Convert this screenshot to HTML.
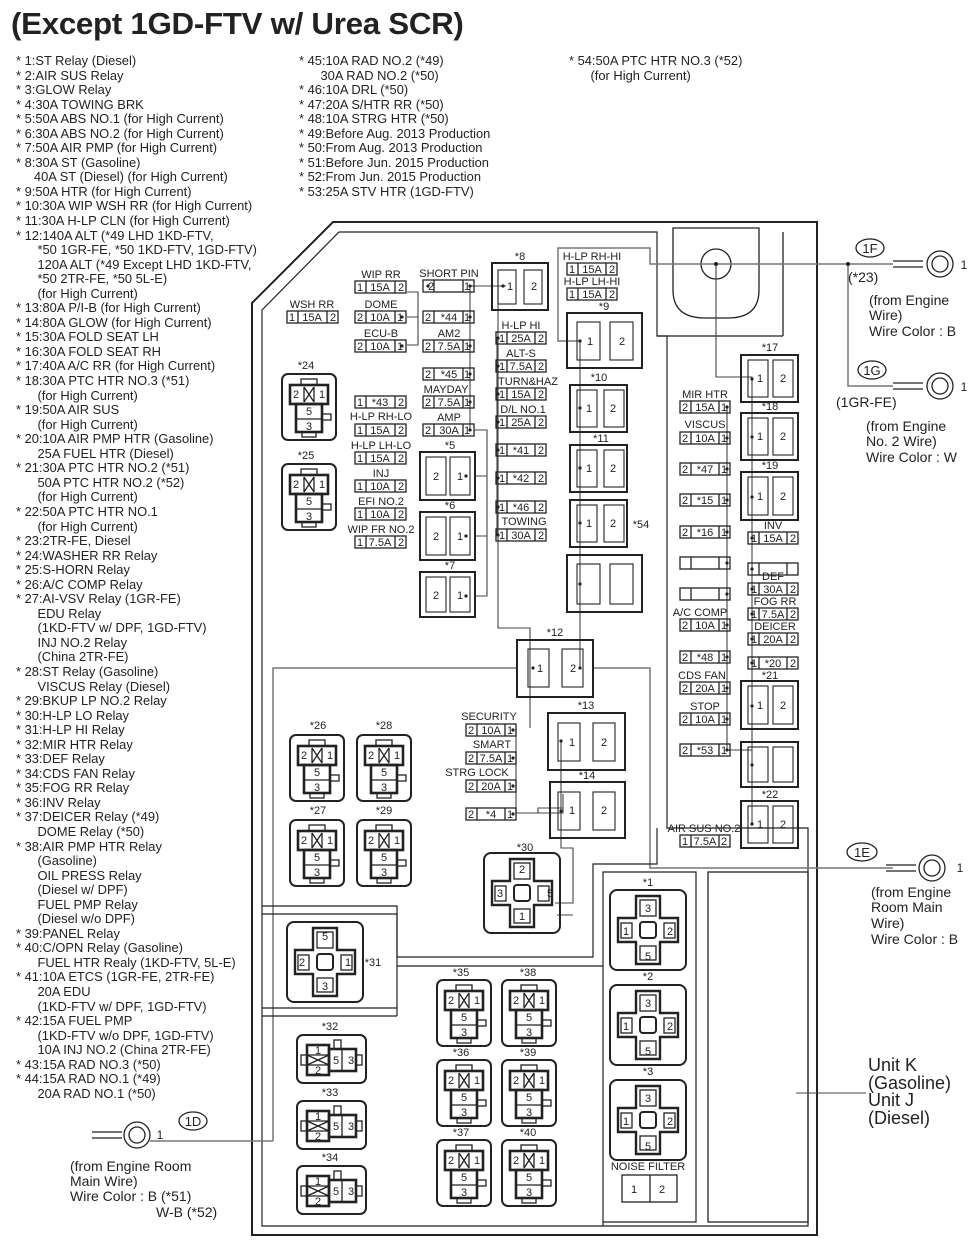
<!DOCTYPE html>
<html><head><meta charset="utf-8"><style>
body{margin:0;background:#fff;width:980px;height:1255px;overflow:hidden;position:relative;font-family:"Liberation Sans",sans-serif;color:#222}
.title{position:absolute;left:11px;top:6px;font-weight:bold;font-size:31px;transform:scaleX(1.01);transform-origin:0 0;white-space:nowrap;letter-spacing:-0.3px}
.col{position:absolute;font-size:12.9px;line-height:14.54px;white-space:pre}
svg{position:absolute;left:0;top:0}
svg text{font-family:"Liberation Sans",sans-serif;font-size:11px;fill:#222;text-anchor:middle}
.s{fill:none;stroke:#222;stroke-width:1.3}
.b{fill:none;stroke:#222;stroke-width:2}
.w{fill:none;stroke:#444;stroke-width:1.1}
.g{fill:none;stroke:#777;stroke-width:1.5}
</style></head><body>
<div class="title">(Except 1GD-FTV w/ Urea SCR)</div>
<div class="col" style="left:16px;top:54px">* 1:ST Relay (Diesel)
* 2:AIR SUS Relay
* 3:GLOW Relay
* 4:30A TOWING BRK
* 5:50A ABS NO.1 (for High Current)
* 6:30A ABS NO.2 (for High Current)
* 7:50A AIR PMP (for High Current)
* 8:30A ST (Gasoline)
     40A ST (Diesel) (for High Current)
* 9:50A HTR (for High Current)
* 10:30A WIP WSH RR (for High Current)
* 11:30A H-LP CLN (for High Current)
* 12:140A ALT (*49 LHD 1KD-FTV,
      *50 1GR-FE, *50 1KD-FTV, 1GD-FTV)
      120A ALT (*49 Except LHD 1KD-FTV,
      *50 2TR-FE, *50 5L-E)
      (for High Current)
* 13:80A P/I-B (for High Current)
* 14:80A GLOW (for High Current)
* 15:30A FOLD SEAT LH
* 16:30A FOLD SEAT RH
* 17:40A A/C RR (for High Current)
* 18:30A PTC HTR NO.3 (*51)
      (for High Current)
* 19:50A AIR SUS
      (for High Current)
* 20:10A AIR PMP HTR (Gasoline)
      25A FUEL HTR (Diesel)
* 21:30A PTC HTR NO.2 (*51)
      50A PTC HTR NO.2 (*52)
      (for High Current)
* 22:50A PTC HTR NO.1
      (for High Current)
* 23:2TR-FE, Diesel
* 24:WASHER RR Relay
* 25:S-HORN Relay
* 26:A/C COMP Relay
* 27:AI-VSV Relay (1GR-FE)
      EDU Relay
      (1KD-FTV w/ DPF, 1GD-FTV)
      INJ NO.2 Relay
      (China 2TR-FE)
* 28:ST Relay (Gasoline)
      VISCUS Relay (Diesel)
* 29:BKUP LP NO.2 Relay
* 30:H-LP LO Relay
* 31:H-LP HI Relay
* 32:MIR HTR Relay
* 33:DEF Relay
* 34:CDS FAN Relay
* 35:FOG RR Relay
* 36:INV Relay
* 37:DEICER Relay (*49)
      DOME Relay (*50)
* 38:AIR PMP HTR Relay
      (Gasoline)
      OIL PRESS Relay
      (Diesel w/ DPF)
      FUEL PMP Relay
      (Diesel w/o DPF)
* 39:PANEL Relay
* 40:C/OPN Relay (Gasoline)
      FUEL HTR Realy (1KD-FTV, 5L-E)
* 41:10A ETCS (1GR-FE, 2TR-FE)
      20A EDU
      (1KD-FTV w/ DPF, 1GD-FTV)
* 42:15A FUEL PMP
      (1KD-FTV w/o DPF, 1GD-FTV)
      10A INJ NO.2 (China 2TR-FE)
* 43:15A RAD NO.3 (*50)
* 44:15A RAD NO.1 (*49)
      20A RAD NO.1 (*50)</div>
<div class="col" style="left:299px;top:54px">* 45:10A RAD NO.2 (*49)
      30A RAD NO.2 (*50)
* 46:10A DRL (*50)
* 47:20A S/HTR RR (*50)
* 48:10A STRG HTR (*50)
* 49:Before Aug. 2013 Production
* 50:From Aug. 2013 Production
* 51:Before Jun. 2015 Production
* 52:From Jun. 2015 Production
* 53:25A STV HTR (1GD-FTV)</div>
<div class="col" style="left:569px;top:54px">* 54:50A PTC HTR NO.3 (*52)
      (for High Current)</div>

<svg width="980" height="1255" viewBox="0 0 980 1255">
<path class="b" d="M333 222H817V1235H252V303Z"/>
<path class="s" d="M339 232H657V336H667V828H808V1226H262V310Z" style="stroke-width:1.2"/>
<path class="s" d="M673 228V290Q673 318 705 318H728Q759 318 759 290V228Z"/>
<line class="s" x1="657" y1="336" x2="783" y2="336"/><line class="s" x1="783" y1="232" x2="783" y2="336"/>
<circle class="s" cx="716" cy="264" r="15"/>
<path class="g" d="M580 341H558V248H650V264H893"/>
<path class="w" d="M716 264V377H752V824"/>
<path class="g" d="M848 264V386H893"/>
<circle cx="848" cy="264" r="2" fill="#222"/><circle cx="716" cy="264" r="2" fill="#222"/>
<path class="w" d="M580 341V612"/>
<path class="w" d="M470 286H506 M470 286V430 M407 292H418V345H407 M407 317H418 M498 286V628H530V728 M580 612V668"/>
<path class="w" d="M474 430H487V596H475 M475 476H487 M475 536H487"/>
<path class="w" d="M497 338V535"/>
<path class="w" d="M727 408V750H752"/>
<path class="g" d="M273 1141V668H517 M593 668H650V868H893 M150 1141H273"/>
<path class="w" d="M516 728V813H563V794 M516 813H538V808H563 M561 741V848H573V903H555 M573 915H557"/>
<path class="s" d="M262 906H397V957H593V864H657V828" style="stroke-width:1.2"/>
<path class="s" d="M262 914H397V1008H262 M262 1016H397" style="stroke-width:1.2"/>
<path class="s" d="M397 1016V1008 M397 966H603V872H696V1222H603 M603 872V1226" style="stroke-width:1.2"/>
<rect class="s" x="708" y="872" width="100" height="350"/>
<line class="w" x1="796" y1="1093" x2="866" y2="1093"/>

<g class="s">
<rect x="355" y="281" width="51" height="12"/><path d="M366 281v12M395 281v12"/>
<rect x="287" y="311" width="51" height="12"/><path d="M298 311v12M327 311v12"/>
<rect x="355" y="311" width="51" height="12"/><path d="M366 311v12M395 311v12"/>
<rect x="355" y="340" width="51" height="12"/><path d="M366 340v12M395 340v12"/>
<rect x="355" y="396" width="51" height="12"/><path d="M366 396v12M395 396v12"/>
<rect x="355" y="424" width="51" height="12"/><path d="M366 424v12M395 424v12"/>
<rect x="355" y="452" width="51" height="12"/><path d="M366 452v12M395 452v12"/>
<rect x="355" y="480" width="51" height="12"/><path d="M366 480v12M395 480v12"/>
<rect x="355" y="508" width="51" height="12"/><path d="M366 508v12M395 508v12"/>
<rect x="355" y="536" width="51" height="12"/><path d="M366 536v12M395 536v12"/>
<rect x="423" y="280" width="51" height="12"/><path d="M434 280v12M463 280v12"/>
<rect x="423" y="311" width="51" height="12"/><path d="M434 311v12M463 311v12"/>
<rect x="423" y="340" width="51" height="12"/><path d="M434 340v12M463 340v12"/>
<rect x="423" y="368" width="51" height="12"/><path d="M434 368v12M463 368v12"/>
<rect x="423" y="396" width="51" height="12"/><path d="M434 396v12M463 396v12"/>
<rect x="423" y="424" width="51" height="12"/><path d="M434 424v12M463 424v12"/>
<rect x="496" y="332" width="50" height="12"/><path d="M507 332v12M535 332v12"/>
<rect x="496" y="360" width="50" height="12"/><path d="M507 360v12M535 360v12"/>
<rect x="496" y="388" width="50" height="12"/><path d="M507 388v12M535 388v12"/>
<rect x="496" y="416" width="50" height="12"/><path d="M507 416v12M535 416v12"/>
<rect x="496" y="444" width="50" height="12"/><path d="M507 444v12M535 444v12"/>
<rect x="496" y="472" width="50" height="12"/><path d="M507 472v12M535 472v12"/>
<rect x="496" y="501" width="50" height="12"/><path d="M507 501v12M535 501v12"/>
<rect x="496" y="529" width="50" height="12"/><path d="M507 529v12M535 529v12"/>
<rect x="567" y="263" width="50" height="12"/><path d="M578 263v12M606 263v12"/>
<rect x="567" y="288" width="50" height="12"/><path d="M578 288v12M606 288v12"/>
<rect x="680" y="401" width="50" height="12"/><path d="M691 401v12M719 401v12"/>
<rect x="680" y="432" width="50" height="12"/><path d="M691 432v12M719 432v12"/>
<rect x="680" y="463" width="50" height="12"/><path d="M691 463v12M719 463v12"/>
<rect x="680" y="494" width="50" height="12"/><path d="M691 494v12M719 494v12"/>
<rect x="680" y="526" width="50" height="12"/><path d="M691 526v12M719 526v12"/>
<rect x="680" y="557" width="50" height="12"/><path d="M691 557v12M719 557v12"/>
<rect x="680" y="588" width="50" height="12"/><path d="M691 588v12M719 588v12"/>
<rect x="680" y="619" width="50" height="12"/><path d="M691 619v12M719 619v12"/>
<rect x="680" y="651" width="50" height="12"/><path d="M691 651v12M719 651v12"/>
<rect x="680" y="682" width="50" height="12"/><path d="M691 682v12M719 682v12"/>
<rect x="680" y="713" width="50" height="12"/><path d="M691 713v12M719 713v12"/>
<rect x="680" y="744" width="50" height="12"/><path d="M691 744v12M719 744v12"/>
<rect x="680" y="835" width="50" height="12"/><path d="M691 835v12M719 835v12"/>
<rect x="748" y="532" width="50" height="12"/><path d="M759 532v12M787 532v12"/>
<rect x="748" y="563" width="50" height="12"/><path d="M759 563v12M787 563v12"/>
<rect x="748" y="583" width="50" height="12"/><path d="M759 583v12M787 583v12"/>
<rect x="748" y="608" width="50" height="12"/><path d="M759 608v12M787 608v12"/>
<rect x="748" y="633" width="50" height="12"/><path d="M759 633v12M787 633v12"/>
<rect x="748" y="657" width="50" height="12"/><path d="M759 657v12M787 657v12"/>
<rect x="466" y="724" width="50" height="12"/><path d="M477 724v12M505 724v12"/>
<rect x="466" y="752" width="50" height="12"/><path d="M477 752v12M505 752v12"/>
<rect x="466" y="780" width="50" height="12"/><path d="M477 780v12M505 780v12"/>
<rect x="466" y="808" width="50" height="12"/><path d="M477 808v12M505 808v12"/>
</g>
<g>
<text x="381" y="278">WIP RR</text><text x="360" y="291">1</text><text x="380" y="291">15A</text><text x="401" y="291">2</text>
<text x="312" y="308">WSH RR</text><text x="292" y="321">1</text><text x="312" y="321">15A</text><text x="333" y="321">2</text>
<text x="381" y="308">DOME</text><text x="360" y="321">2</text><text x="380" y="321">10A</text><text x="400" y="321">1</text>
<text x="381" y="337">ECU-B</text><text x="360" y="350">2</text><text x="380" y="350">10A</text><text x="400" y="350">1</text>
<text x="360" y="406">1</text><text x="380" y="406">*43</text><text x="401" y="406">2</text>
<text x="381" y="420">H-LP RH-LO</text><text x="360" y="434">1</text><text x="380" y="434">15A</text><text x="401" y="434">2</text>
<text x="381" y="449">H-LP LH-LO</text><text x="360" y="462">1</text><text x="380" y="462">15A</text><text x="401" y="462">2</text>
<text x="381" y="477">INJ</text><text x="360" y="490">1</text><text x="380" y="490">10A</text><text x="401" y="490">2</text>
<text x="381" y="505">EFI NO.2</text><text x="360" y="518">1</text><text x="380" y="518">10A</text><text x="401" y="518">2</text>
<text x="381" y="533">WIP FR NO.2</text><text x="360" y="546">1</text><text x="380" y="546">7.5A</text><text x="401" y="546">2</text>
<text x="449" y="277">SHORT PIN</text><text x="431" y="290">2</text><text x="467" y="290">1</text>
<text x="428" y="321">2</text><text x="449" y="321">*44</text><text x="467" y="321">1</text>
<text x="449" y="337">AM2</text><text x="428" y="350">2</text><text x="449" y="350">7.5A</text><text x="467" y="350">1</text>
<text x="428" y="378">2</text><text x="449" y="378">*45</text><text x="467" y="378">1</text>
<text x="446" y="393">MAYDAY</text><text x="428" y="406">2</text><text x="449" y="406">7.5A</text><text x="467" y="406">1</text>
<text x="449" y="421">AMP</text><text x="428" y="434">2</text><text x="449" y="434">30A</text><text x="467" y="434">1</text>
<text x="521" y="329">H-LP HI</text><text x="502" y="342">1</text><text x="521" y="342">25A</text><text x="541" y="342">2</text>
<text x="521" y="357">ALT-S</text><text x="502" y="370">1</text><text x="521" y="370">7.5A</text><text x="541" y="370">2</text>
<text x="528" y="385">TURN&amp;HAZ</text><text x="502" y="398">1</text><text x="521" y="398">15A</text><text x="541" y="398">2</text>
<text x="523" y="413">D/L NO.1</text><text x="502" y="426">1</text><text x="521" y="426">25A</text><text x="541" y="426">2</text>
<text x="502" y="454">1</text><text x="521" y="454">*41</text><text x="541" y="454">2</text>
<text x="502" y="482">1</text><text x="521" y="482">*42</text><text x="541" y="482">2</text>
<text x="502" y="511">1</text><text x="521" y="511">*46</text><text x="541" y="511">2</text>
<text x="524" y="525">TOWING</text><text x="502" y="539">1</text><text x="521" y="539">30A</text><text x="541" y="539">2</text>
<text x="592" y="260">H-LP RH-HI</text><text x="572" y="273">1</text><text x="592" y="273">15A</text><text x="612" y="273">2</text>
<text x="592" y="285">H-LP LH-HI</text><text x="572" y="298">1</text><text x="592" y="298">15A</text><text x="612" y="298">2</text>
<text x="705" y="398">MIR HTR</text><text x="685" y="411">2</text><text x="705" y="411">15A</text><text x="724" y="411">1</text>
<text x="705" y="428">VISCUS</text><text x="685" y="442">2</text><text x="705" y="442">10A</text><text x="724" y="442">1</text>
<text x="685" y="473">2</text><text x="705" y="473">*47</text><text x="724" y="473">1</text>
<text x="685" y="504">2</text><text x="705" y="504">*15</text><text x="724" y="504">1</text>
<text x="685" y="536">2</text><text x="705" y="536">*16</text><text x="724" y="536">1</text>
<text x="700" y="616">A/C COMP</text><text x="685" y="629">2</text><text x="705" y="629">10A</text><text x="724" y="629">1</text>
<text x="685" y="661">2</text><text x="705" y="661">*48</text><text x="724" y="661">1</text>
<text x="702" y="679">CDS FAN</text><text x="685" y="692">2</text><text x="705" y="692">20A</text><text x="724" y="692">1</text>
<text x="705" y="710">STOP</text><text x="685" y="723">2</text><text x="705" y="723">10A</text><text x="724" y="723">1</text>
<text x="685" y="754">2</text><text x="705" y="754">*53</text><text x="724" y="754">1</text>
<text x="704" y="832">AIR SUS NO.2</text><text x="685" y="845">1</text><text x="705" y="845">7.5A</text><text x="724" y="845">2</text>
<text x="773" y="529">INV</text><text x="754" y="542">1</text><text x="773" y="542">15A</text><text x="793" y="542">2</text>
<text x="773" y="580">DEF</text><text x="754" y="593">1</text><text x="773" y="593">30A</text><text x="793" y="593">2</text>
<text x="775" y="605">FOG RR</text><text x="754" y="618">1</text><text x="773" y="618">7.5A</text><text x="793" y="618">2</text>
<text x="775" y="630">DEICER</text><text x="754" y="643">1</text><text x="773" y="643">20A</text><text x="793" y="643">2</text>
<text x="754" y="667">1</text><text x="773" y="667">*20</text><text x="793" y="667">2</text>
<text x="489" y="720">SECURITY</text><text x="471" y="734">2</text><text x="491" y="734">10A</text><text x="510" y="734">1</text>
<text x="492" y="748">SMART</text><text x="471" y="762">2</text><text x="491" y="762">7.5A</text><text x="510" y="762">1</text>
<text x="477" y="776">STRG LOCK</text><text x="471" y="790">2</text><text x="491" y="790">20A</text><text x="510" y="790">1</text>
<text x="471" y="818">2</text><text x="491" y="818">*4</text><text x="510" y="818">1</text>
</g>
<g class="b">
<rect x="492" y="263" width="56" height="47"/><rect x="567" y="313" width="75" height="55"/>
<rect x="570" y="385" width="57" height="47"/><rect x="570" y="445" width="57" height="47"/>
<rect x="570" y="500" width="57" height="47"/><rect x="567" y="555" width="75" height="57"/>
<rect x="420" y="452" width="55" height="48"/><rect x="420" y="512" width="55" height="48"/><rect x="420" y="572" width="55" height="45"/>
<rect x="741" y="355" width="57" height="47"/><rect x="741" y="413" width="57" height="47"/><rect x="741" y="472" width="57" height="48"/>
<rect x="741" y="681" width="57" height="48"/><rect x="741" y="742" width="57" height="45"/><rect x="741" y="801" width="57" height="47"/>
<rect x="517" y="640" width="76" height="57"/><rect x="548" y="713" width="77" height="57"/><rect x="550" y="782" width="75" height="56"/>
</g>
<g class="s" style="stroke-width:1.1">
<rect x="498" y="270" width="18" height="34"/><rect x="524" y="270" width="18" height="34"/>
<rect x="577" y="322" width="23" height="38"/><rect x="610" y="322" width="23" height="38"/>
<rect x="577" y="390" width="20" height="37"/><rect x="604" y="390" width="20" height="37"/>
<rect x="577" y="450" width="20" height="37"/><rect x="604" y="450" width="20" height="37"/>
<rect x="577" y="505" width="20" height="37"/><rect x="604" y="505" width="20" height="37"/>
<rect x="577" y="564" width="23" height="40"/><rect x="610" y="564" width="23" height="40"/>
<rect x="426" y="457" width="20" height="38"/><rect x="450" y="457" width="20" height="38"/>
<rect x="426" y="517" width="20" height="38"/><rect x="450" y="517" width="20" height="38"/>
<rect x="426" y="577" width="20" height="35"/><rect x="450" y="577" width="20" height="35"/>
<rect x="748" y="360" width="20" height="37"/><rect x="773" y="360" width="20" height="37"/>
<rect x="748" y="418" width="20" height="37"/><rect x="773" y="418" width="20" height="37"/>
<rect x="748" y="477" width="20" height="38"/><rect x="773" y="477" width="20" height="38"/>
<rect x="748" y="686" width="20" height="38"/><rect x="773" y="686" width="20" height="38"/>
<rect x="748" y="747" width="20" height="35"/><rect x="773" y="747" width="20" height="35"/>
<rect x="748" y="806" width="20" height="37"/><rect x="773" y="806" width="20" height="37"/>
<rect x="528" y="649" width="21" height="38"/><rect x="562" y="649" width="21" height="38"/>
<rect x="558" y="723" width="22" height="38"/><rect x="593" y="723" width="22" height="38"/>
<rect x="558" y="792" width="22" height="38"/><rect x="593" y="792" width="22" height="38"/>
</g>
<g>
<text x="520" y="260">*8</text><text x="510" y="290">1</text><text x="534" y="290">2</text>
<text x="604" y="310">*9</text><text x="590" y="345">1</text><text x="622" y="345">2</text>
<text x="599" y="381">*10</text><text x="589" y="412">1</text><text x="613" y="412">2</text>
<text x="601" y="442">*11</text><text x="589" y="472">1</text><text x="613" y="472">2</text>
<text x="589" y="527">1</text><text x="613" y="527">2</text><text x="641" y="528">*54</text>
<text x="450" y="449">*5</text><text x="436" y="480">2</text><text x="460" y="480">1</text>
<text x="450" y="509">*6</text><text x="436" y="540">2</text><text x="460" y="540">1</text>
<text x="450" y="569">*7</text><text x="436" y="599">2</text><text x="460" y="599">1</text>
<text x="770" y="351">*17</text><text x="760" y="382">1</text><text x="783" y="382">2</text>
<text x="770" y="410">*18</text><text x="760" y="440">1</text><text x="783" y="440">2</text>
<text x="770" y="469">*19</text><text x="760" y="500">1</text><text x="783" y="500">2</text>
<text x="770" y="679">*21</text><text x="760" y="709">1</text><text x="783" y="709">2</text>
<text x="770" y="798">*22</text><text x="760" y="828">1</text><text x="783" y="828">2</text>
<text x="555" y="636">*12</text><text x="540" y="672">1</text><text x="573" y="672">2</text>
<text x="586" y="709">*13</text><text x="572" y="746">1</text><text x="604" y="746">2</text>
<text x="587" y="779">*14</text><text x="572" y="814">1</text><text x="604" y="814">2</text>
</g>
<g fill="#222">
<circle cx="402" cy="317" r="1.6"/><circle cx="402" cy="346" r="1.6"/><circle cx="428" cy="286" r="1.6"/><circle cx="470" cy="286" r="1.6"/>
<circle cx="470" cy="317" r="1.6"/><circle cx="470" cy="346" r="1.6"/><circle cx="470" cy="374" r="1.6"/><circle cx="470" cy="402" r="1.6"/><circle cx="470" cy="430" r="1.6"/>
<circle cx="503" cy="286" r="1.6"/><circle cx="498" cy="338" r="1.6"/><circle cx="498" cy="366" r="1.6"/><circle cx="498" cy="394" r="1.6"/><circle cx="498" cy="422" r="1.6"/><circle cx="498" cy="450" r="1.6"/><circle cx="498" cy="478" r="1.6"/><circle cx="498" cy="507" r="1.6"/><circle cx="498" cy="535" r="1.6"/>
<circle cx="466" cy="476" r="1.6"/><circle cx="466" cy="536" r="1.6"/><circle cx="466" cy="596" r="1.6"/>
<circle cx="580" cy="341" r="1.6"/><circle cx="580" cy="408" r="1.6"/><circle cx="580" cy="468" r="1.6"/><circle cx="580" cy="523" r="1.6"/><circle cx="580" cy="584" r="1.6"/>
<circle cx="727" cy="407" r="1.6"/><circle cx="727" cy="438" r="1.6"/><circle cx="727" cy="469" r="1.6"/><circle cx="727" cy="500" r="1.6"/><circle cx="727" cy="532" r="1.6"/><circle cx="727" cy="563" r="1.6"/><circle cx="727" cy="594" r="1.6"/><circle cx="727" cy="625" r="1.6"/><circle cx="727" cy="657" r="1.6"/><circle cx="727" cy="688" r="1.6"/><circle cx="727" cy="719" r="1.6"/><circle cx="727" cy="750" r="1.6"/>
<circle cx="752" cy="379" r="1.6"/><circle cx="752" cy="437" r="1.6"/><circle cx="752" cy="497" r="1.6"/><circle cx="752" cy="538" r="1.6"/><circle cx="752" cy="569" r="1.6"/><circle cx="752" cy="589" r="1.6"/><circle cx="752" cy="614" r="1.6"/><circle cx="752" cy="639" r="1.6"/><circle cx="752" cy="663" r="1.6"/><circle cx="752" cy="706" r="1.6"/><circle cx="752" cy="765" r="1.6"/><circle cx="752" cy="824" r="1.6"/>
<circle cx="533" cy="668" r="1.6"/><circle cx="580" cy="668" r="1.6"/><circle cx="513" cy="730" r="1.6"/><circle cx="513" cy="758" r="1.6"/><circle cx="513" cy="786" r="1.6"/><circle cx="513" cy="814" r="1.6"/><circle cx="561" cy="741" r="1.6"/><circle cx="561" cy="811" r="1.6"/>
</g>
<defs>
<g id="c5"><rect x="0" y="0" width="54" height="66" rx="6" class="b"/><rect x="19" y="5" width="16" height="6" class="s"/><rect x="8" y="11" width="38" height="19" class="b" style="stroke-width:2.6"/><rect x="14" y="30" width="26" height="28" class="b" style="stroke-width:2.6"/><path class="s" d="M22 13v15M32 13v15M22 13l10 15M32 13l-10 15M14 45h26"/><rect x="40" y="40" width="9" height="6" class="s"/><rect x="20" y="58" width="14" height="5" class="s"/></g>
<g id="ch"><rect x="0" y="0" width="69" height="48" rx="6" class="b"/><rect x="10" y="10" width="22" height="30" class="b" style="stroke-width:2.6"/><rect x="32" y="14" width="27" height="22" class="b" style="stroke-width:2.6"/><path class="s" d="M10 20h22M10 30h22M10 20l22 10M32 20l-22 10M45 14v22"/><rect x="37" y="5" width="7" height="9" class="s"/><rect x="4" y="20" width="6" height="10" class="s"/><rect x="59" y="20" width="6" height="10" class="s"/></g>
<g id="cx"><rect x="0" y="0" width="76" height="80" rx="7" class="b"/><path class="b" style="stroke-width:2.4" d="M26 6H50V28H68V52H50V74H26V52H8V28H26Z"/><rect x="30" y="32" width="16" height="16" rx="3" class="b"/><rect x="30" y="10" width="16" height="16" class="s"/><rect x="30" y="56" width="16" height="14" class="s"/><rect x="11" y="33" width="11" height="15" class="s"/><rect x="54" y="33" width="11" height="15" class="s"/></g>
</defs>
<use href="#c5" x="282" y="374"/><use href="#c5" x="282" y="464"/>
<use href="#c5" x="290" y="735"/><use href="#c5" x="357" y="735"/><use href="#c5" x="290" y="820"/><use href="#c5" x="357" y="820"/>
<use href="#c5" x="437" y="980"/><use href="#c5" x="502" y="980"/><use href="#c5" x="437" y="1060"/><use href="#c5" x="502" y="1060"/><use href="#c5" x="437" y="1140"/><use href="#c5" x="502" y="1140"/>
<use href="#ch" x="297" y="1035"/><use href="#ch" x="297" y="1101"/><use href="#ch" x="297" y="1166"/>
<use href="#cx" x="610" y="890"/><use href="#cx" x="610" y="985"/><use href="#cx" x="610" y="1080"/>
<use href="#cx" x="287" y="922"/><use href="#cx" x="484" y="853"/>
<g>
<text x="306" y="369">*24</text><text x="296" y="398">2</text><text x="322" y="398">1</text><text x="309" y="415">5</text><text x="309" y="430">3</text>
<text x="306" y="459">*25</text><text x="296" y="488">2</text><text x="322" y="488">1</text><text x="309" y="505">5</text><text x="309" y="520">3</text>
<text x="318" y="729">*26</text><text x="304" y="759">2</text><text x="330" y="759">1</text><text x="317" y="776">5</text><text x="317" y="791">3</text>
<text x="384" y="729">*28</text><text x="371" y="759">2</text><text x="397" y="759">1</text><text x="384" y="776">5</text><text x="384" y="791">3</text>
<text x="318" y="814">*27</text><text x="304" y="844">2</text><text x="330" y="844">1</text><text x="317" y="861">5</text><text x="317" y="876">3</text>
<text x="384" y="814">*29</text><text x="371" y="844">2</text><text x="397" y="844">1</text><text x="384" y="861">5</text><text x="384" y="876">3</text>
<text x="461" y="976">*35</text><text x="451" y="1004">2</text><text x="477" y="1004">1</text><text x="464" y="1021">5</text><text x="464" y="1036">3</text>
<text x="528" y="976">*38</text><text x="516" y="1004">2</text><text x="542" y="1004">1</text><text x="529" y="1021">5</text><text x="529" y="1036">3</text>
<text x="461" y="1056">*36</text><text x="451" y="1084">2</text><text x="477" y="1084">1</text><text x="464" y="1101">5</text><text x="464" y="1116">3</text>
<text x="528" y="1056">*39</text><text x="516" y="1084">2</text><text x="542" y="1084">1</text><text x="529" y="1101">5</text><text x="529" y="1116">3</text>
<text x="461" y="1136">*37</text><text x="451" y="1164">2</text><text x="477" y="1164">1</text><text x="464" y="1181">5</text><text x="464" y="1196">3</text>
<text x="528" y="1136">*40</text><text x="516" y="1164">2</text><text x="542" y="1164">1</text><text x="529" y="1181">5</text><text x="529" y="1196">3</text>
<text x="330" y="1030">*32</text><text x="318" y="1054">1</text><text x="318" y="1074">2</text><text x="336" y="1064">5</text><text x="351" y="1064">3</text>
<text x="330" y="1096">*33</text><text x="318" y="1120">1</text><text x="318" y="1140">2</text><text x="336" y="1130">5</text><text x="351" y="1130">3</text>
<text x="330" y="1161">*34</text><text x="318" y="1185">1</text><text x="318" y="1205">2</text><text x="336" y="1195">5</text><text x="351" y="1195">3</text>
<text x="648" y="886">*1</text><text x="648" y="912">3</text><text x="626" y="935">1</text><text x="670" y="935">2</text><text x="648" y="960">5</text>
<text x="648" y="980">*2</text><text x="648" y="1007">3</text><text x="626" y="1030">1</text><text x="670" y="1030">2</text><text x="648" y="1055">5</text>
<text x="648" y="1075">*3</text><text x="648" y="1102">3</text><text x="626" y="1125">1</text><text x="670" y="1125">2</text><text x="648" y="1150">5</text>
<text x="325" y="940">5</text><text x="302" y="966">2</text><text x="348" y="966">1</text><text x="325" y="990">3</text><text x="373" y="966">*31</text>
<text x="525" y="851">*30</text><text x="522" y="873">2</text><text x="500" y="897">3</text><text x="550" y="897">5</text><text x="522" y="920">1</text>
<text x="648" y="1170">NOISE FILTER</text><text x="634" y="1193">1</text><text x="662" y="1193">2</text>
</g>
<rect class="s" x="622" y="1175" width="55" height="27"/><line class="s" x1="650" y1="1175" x2="650" y2="1202"/>
<g class="s">
<ellipse cx="870" cy="248" rx="14" ry="9"/><ellipse cx="872" cy="370" rx="14" ry="9"/><ellipse cx="862" cy="852" rx="15" ry="9"/><ellipse cx="193" cy="1121" rx="14" ry="9"/>
<path d="M893 261h30M893 267h30M893 383h30M893 389h30M886 865h30M886 871h30M92 1132h30M92 1138h30"/>
<circle cx="940" cy="264" r="13"/><circle cx="940" cy="264" r="8"/>
<circle cx="940" cy="386" r="13"/><circle cx="940" cy="386" r="8"/>
<circle cx="932" cy="868" r="13"/><circle cx="932" cy="868" r="8"/>
<circle cx="137" cy="1135" r="13"/><circle cx="137" cy="1135" r="8"/>
</g>
<g>
<text x="870" y="253" style="font-size:13px">1F</text><text x="872" y="375" style="font-size:13px">1G</text><text x="862" y="857" style="font-size:13px">1E</text><text x="193" y="1126" style="font-size:13px">1D</text>
<text x="964" y="269" style="font-size:12px">1</text><text x="964" y="391" style="font-size:12px">1</text><text x="960" y="872" style="font-size:12px">1</text><text x="160" y="1139" style="font-size:12px">1</text>
</g>
<g>
<text x="848" y="282" style="text-anchor:start;font-size:14px">(*23)</text>
<text x="869" y="305" style="text-anchor:start;font-size:14px">(from Engine</text><text x="869" y="320" style="text-anchor:start;font-size:14px">Wire)</text><text x="869" y="336" style="text-anchor:start;font-size:14px">Wire Color : B</text>
<text x="836" y="407" style="text-anchor:start;font-size:14px">(1GR-FE)</text>
<text x="866" y="431" style="text-anchor:start;font-size:14px">(from Engine</text><text x="866" y="446" style="text-anchor:start;font-size:14px">No. 2 Wire)</text><text x="866" y="462" style="text-anchor:start;font-size:14px">Wire Color : W</text>
<text x="871" y="897" style="text-anchor:start;font-size:14px">(from Engine</text><text x="871" y="912" style="text-anchor:start;font-size:14px">Room Main</text><text x="871" y="928" style="text-anchor:start;font-size:14px">Wire)</text><text x="871" y="944" style="text-anchor:start;font-size:14px">Wire Color : B</text>
<text x="70" y="1171" style="text-anchor:start;font-size:14px">(from Engine Room</text><text x="70" y="1186" style="text-anchor:start;font-size:14px">Main Wire)</text><text x="70" y="1201" style="text-anchor:start;font-size:14px">Wire Color : B (*51)</text><text x="156" y="1217" style="text-anchor:start;font-size:14px">W-B (*52)</text>
<text x="868" y="1071" style="text-anchor:start;font-size:18px">Unit K</text><text x="868" y="1089" style="text-anchor:start;font-size:18px">(Gasoline)</text><text x="868" y="1106" style="text-anchor:start;font-size:18px">Unit J</text><text x="868" y="1124" style="text-anchor:start;font-size:18px">(Diesel)</text>
</g>
</svg>
</body></html>
